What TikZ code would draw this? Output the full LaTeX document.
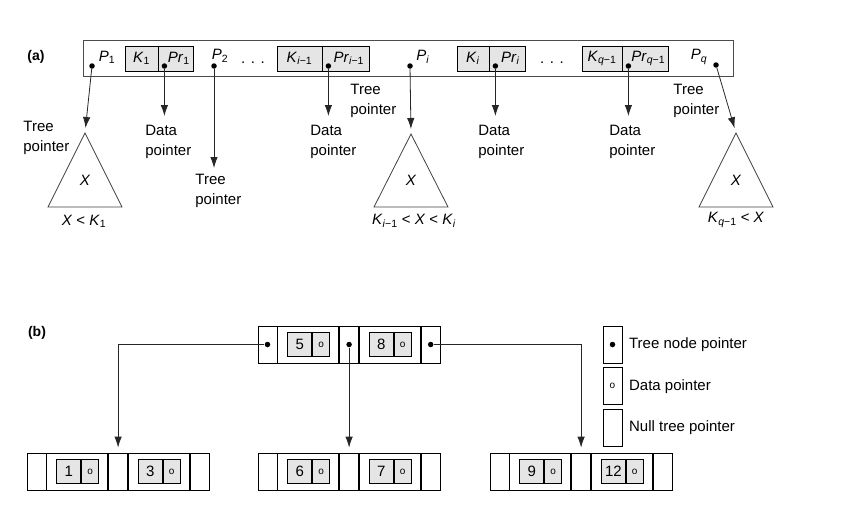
\documentclass[tikz,border=0pt]{standalone}
\usepackage{fontspec}
\setmainfont{Liberation Sans}
\usetikzlibrary{arrows.meta,positioning}

\begin{document}
\begin{tikzpicture}[
    x=1pt, y=-1pt, node distance=0pt, line width=0.8pt,
    font=\fontsize{15}{20}\selectfont,
    tag/.style={font=\bfseries\fontsize{14}{16}\selectfont},
    kcell/.style={draw, fill=gray!20, minimum height=25pt, inner sep=0pt},
    lbl/.style={align=left, inner sep=0pt, anchor=north west},
    ptr/.style={circle, fill=black, inner sep=0pt, minimum size=5.5pt},
    tri/.style={draw=black!75},
    pcell/.style={draw, minimum width=19pt, minimum height=37pt, inner sep=0pt},
    kbox/.style={draw, minimum width=61pt, minimum height=37pt, inner sep=0pt},
    ibox/.style={draw, fill=gray!20, minimum height=24pt, inner sep=0pt},
    dat/.style={font=\fontsize{10}{10}\selectfont},
    arr/.style={-{Latex[length=11pt,width=7.5pt]}, black!85, shorten >=5pt}
]
\useasboundingbox (0,0) rectangle (860,530);

% (a) one node of a B-tree
\node[tag] (tagA) at (36,57) {(a)};
\node[draw=black!70, minimum width=650pt, minimum height=36pt] (nodeA) at (408,58) {};

\node[kcell, minimum width=33pt] (k1) at (141.5,58.5) {\textit{K}\textsubscript{1}};
\node[kcell, minimum width=35pt, right=of k1] (pr1) {\hspace{5pt}\textit{Pr}\textsubscript{1}};
\node[kcell, minimum width=45pt] (ki1) at (299.5,58.5) {\textit{K}\textsubscript{\textit{i}−1}};
\node[kcell, minimum width=47pt, right=of ki1] (pri1) {\hspace{5pt}\textit{Pr}\textsubscript{\textit{i}−1}};
\node[kcell, minimum width=32pt] (ki) at (473,58.5) {\textit{K}\textsubscript{\textit{i}}};
\node[kcell, minimum width=36pt, right=of ki] (pri) {\hspace{5pt}\textit{Pr}\textsubscript{\textit{i}}};
\node[kcell, minimum width=40pt] (kq1) at (602,58.5) {\textit{K}\textsubscript{\textit{q}−1}};
\node[kcell, minimum width=46pt, right=of kq1] (prq1) {\hspace{5pt}\textit{Pr}\textsubscript{\textit{q}−1}};

\node (lp1) at (107,57) {\textit{P}\textsubscript{1}};
\node (lp2) at (220,56) {\textit{P}\textsubscript{2}};
\node (lpi) at (423,57) {\textit{P}\textsubscript{\textit{i}}};
\node (lpq) at (699,57) {\textit{P}\textsubscript{\textit{q}}};
\node (el1) at (253,63) {. . .};
\node (el2) at (552,63) {. . .};

\node[ptr] (dp1) at (92,66) {};
\node[ptr] (dp2) at (214,66) {};
\node[ptr] (dpi) at (410,66) {};
\node[ptr] (dpq) at (716,65) {};
\node[ptr] (dr1) at ([xshift=6pt,yshift=-7.5pt]pr1.west) {};
\node[ptr] (dri1) at ([xshift=6pt,yshift=-7.5pt]pri1.west) {};
\node[ptr] (dri) at ([xshift=6pt,yshift=-7.5pt]pri.west) {};
\node[ptr] (drq1) at ([xshift=6pt,yshift=-7.5pt]prq1.west) {};

\node[lbl] (tp1) at (23,121) {Tree\\pointer};
\node[lbl] (tp2) at (195,174) {Tree\\pointer};
\node[lbl] (tp3) at (350,84) {Tree\\pointer};
\node[lbl] (tp4) at (673,84) {Tree\\pointer};
\node[lbl] (dl1) at (145,125) {Data\\pointer};
\node[lbl] (dl2) at (310,125) {Data\\pointer};
\node[lbl] (dl3) at (478,125) {Data\\pointer};
\node[lbl] (dl4) at (609,125) {Data\\pointer};

% subtrees
\coordinate (ap1) at (85,133);
\coordinate (ap2) at (411,134);
\coordinate (ap3) at (736,133);
\draw[tri] (ap1) -- ++(37,74) -- ++(-74,0) -- cycle;
\draw[tri] (ap2) -- ++(37,73) -- ++(-74,0) -- cycle;
\draw[tri] (ap3) -- ++(37,74) -- ++(-74,0) -- cycle;
\node (x1) at (85,180) {\textit{X}};
\node (x2) at (411,180) {\textit{X}};
\node (x3) at (736,180) {\textit{X}};
\node (rg1) at (84,221) {\textit{X} < \textit{K}\textsubscript{1}};
\node (rg2) at (414,221) {\textit{K}\textsubscript{\textit{i}−1} < \textit{X} < \textit{K}\textsubscript{\textit{i}}};
\node (rg3) at (736,220) {\textit{K}\textsubscript{\textit{q}−1} < \textit{X}};

\draw[arr] (dp1) -- (ap1);
\draw[arr, shorten >=9pt] (dr1) -- (dr1 |- dl1.north);
\draw[arr, shorten >=6pt] (dp2) -- (dp2 |- tp2.north);
\draw[arr, shorten >=9pt] (dri1) -- (dri1 |- dl2.north);
\draw[arr] (dpi) -- (ap2);
\draw[arr, shorten >=9pt] (dri) -- (dri |- dl3.north);
\draw[arr, shorten >=9pt] (drq1) -- (drq1 |- dl4.north);
\draw[arr] (dpq) -- (ap3);

% (b) a B-tree of order 3
\node[tag] (tagB) at (37,333) {(b)};

\node[pcell] (rt0) at (267.5,344.5) {};
\node[kbox, right=of rt0] (rt1) {};
\node[pcell, right=of rt1] (rt2) {};
\node[kbox, right=of rt2] (rt3) {};
\node[pcell, right=of rt3] (rt4) {};
\node[ibox, minimum width=24pt, xshift=-8.5pt] (n5) at (rt1) {5};
\node[ibox, dat, minimum width=17pt, right=of n5] (o5) {o};
\node[ibox, minimum width=24pt, xshift=-8.5pt] (n8) at (rt3) {8};
\node[ibox, dat, minimum width=17pt, right=of n8] (o8) {o};
\node[ptr] (rd0) at (rt0) {};
\node[ptr] (rd2) at (rt2) {};
\node[ptr] (rd4) at (rt4) {};

\node[pcell] (lfa0) at (36.5,471.5) {};
\node[kbox, right=of lfa0] (lfa1) {};
\node[pcell, right=of lfa1] (lfa2) {};
\node[kbox, right=of lfa2] (lfa3) {};
\node[pcell, right=of lfa3] (lfa4) {};
\node[ibox, minimum width=24pt, xshift=-8.5pt] (n1) at (lfa1) {1};
\node[ibox, dat, minimum width=17pt, right=of n1] (o1) {o};
\node[ibox, minimum width=24pt, xshift=-8.5pt] (n3) at (lfa3) {3};
\node[ibox, dat, minimum width=17pt, right=of n3] (o3) {o};

\node[pcell] (lfb0) at (267.5,471.5) {};
\node[kbox, right=of lfb0] (lfb1) {};
\node[pcell, right=of lfb1] (lfb2) {};
\node[kbox, right=of lfb2] (lfb3) {};
\node[pcell, right=of lfb3] (lfb4) {};
\node[ibox, minimum width=24pt, xshift=-8.5pt] (n6) at (lfb1) {6};
\node[ibox, dat, minimum width=17pt, right=of n6] (o6) {o};
\node[ibox, minimum width=24pt, xshift=-8.5pt] (n7) at (lfb3) {7};
\node[ibox, dat, minimum width=17pt, right=of n7] (o7) {o};

\node[pcell] (lfc0) at (499.5,471.5) {};
\node[kbox, right=of lfc0] (lfc1) {};
\node[pcell, right=of lfc1] (lfc2) {};
\node[kbox, right=of lfc2] (lfc3) {};
\node[pcell, right=of lfc3] (lfc4) {};
\node[ibox, minimum width=24pt, xshift=-8.5pt] (n9) at (lfc1) {9};
\node[ibox, dat, minimum width=17pt, right=of n9] (o9) {o};
\node[ibox, minimum width=24pt, xshift=-8.5pt] (n12) at (lfc3) {12};
\node[ibox, dat, minimum width=17pt, right=of n12] (o12) {o};

\draw[arr] (rd0) -| (lfa2.north);
\draw[arr] (rd2) -- (lfb2.north);
\draw[arr] (rd4) -| (lfc2.north);

% legend
\node[pcell] (key1) at (612.5,344.5) {};
\node[pcell, below=4pt of key1] (key2) {};
\node[pcell, below=4pt of key2] (key3) {};
\node[ptr] (kd1) at (key1) {};
\node[dat] (kd2) at (key2) {o};
\node[anchor=west] (kt1) at ([xshift=3pt]key1.east) {Tree node pointer};
\node[anchor=west] (kt2) at ([xshift=3pt]key2.east) {Data pointer};
\node[anchor=west] (kt3) at ([xshift=3pt]key3.east) {Null tree pointer};
\end{tikzpicture}
\end{document}
